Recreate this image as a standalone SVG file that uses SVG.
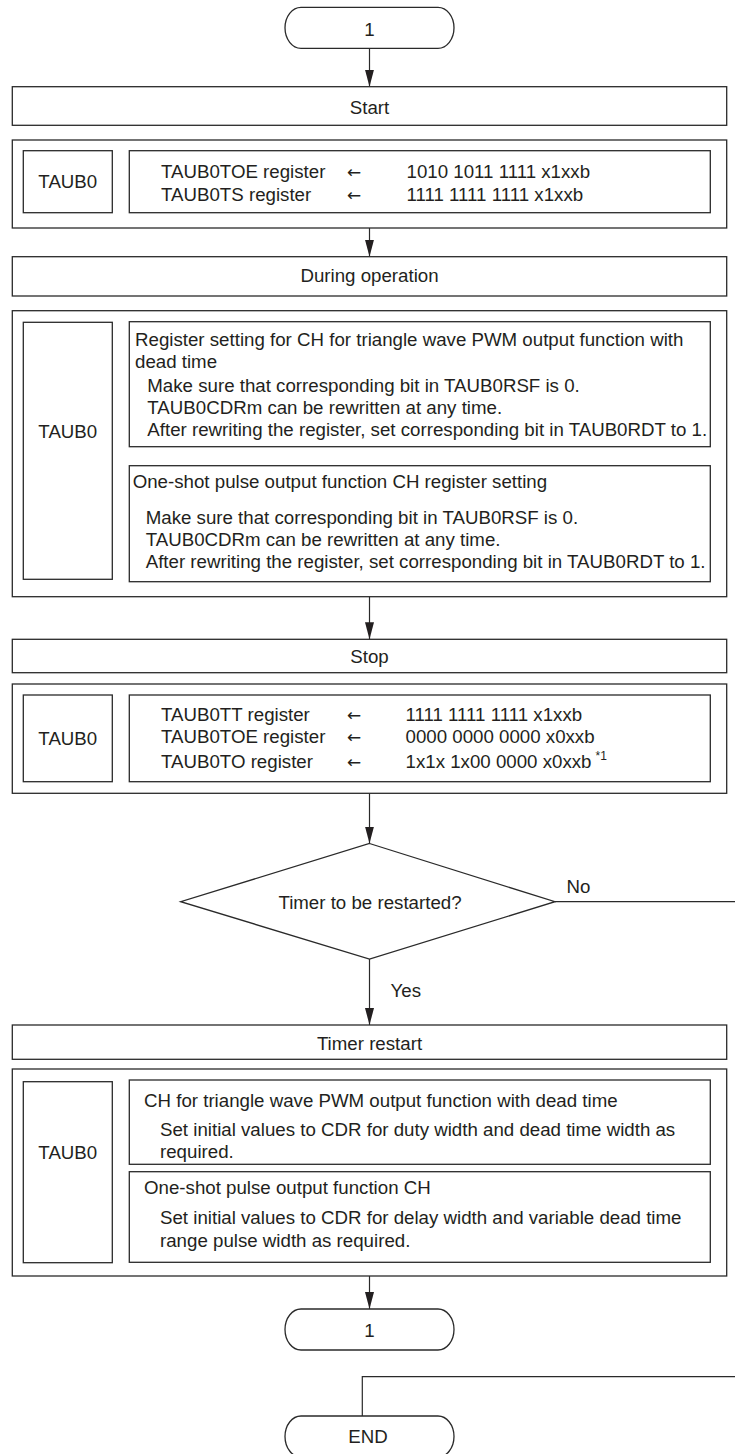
<svg xmlns="http://www.w3.org/2000/svg" width="735" height="1454" viewBox="0 0 735 1454">
<style>
  .box{fill:#fff;stroke:#2a2a2a;stroke-width:1.3}
  .ln{fill:none;stroke:#2a2a2a;stroke-width:1.2}
  text{font-family:"Liberation Sans",Arial,sans-serif;font-size:18.7px;fill:#231f20}
  .c{text-anchor:middle}
  .arr{font-family:"DejaVu Sans",sans-serif;font-size:17px}
  .sup{font-size:12px}
</style>
<defs>
  <marker id="ah" viewBox="0 0 17 9" refX="17" refY="4.5" markerWidth="17" markerHeight="9" orient="auto" markerUnits="userSpaceOnUse">
    <path d="M0,0 L17,4.5 L0,9 z" fill="#231f20"/>
  </marker>
</defs>
<rect width="735" height="1454" fill="#fff"/>

<g id="connectors">
  <line class="ln" x1="369.5" y1="48.3" x2="369.5" y2="86.7" marker-end="url(#ah)"/>
  <line class="ln" x1="369.5" y1="228" x2="369.5" y2="256.7" marker-end="url(#ah)"/>
  <line class="ln" x1="369.5" y1="596.7" x2="369.5" y2="639.3" marker-end="url(#ah)"/>
  <line class="ln" x1="369.5" y1="793.3" x2="369.5" y2="843.5" marker-end="url(#ah)"/>
  <line class="ln" x1="369.5" y1="959" x2="369.5" y2="1025" marker-end="url(#ah)"/>
  <text x="390.5" y="997.3">Yes</text>
  <line class="ln" x1="555" y1="901.7" x2="735" y2="901.7"/>
  <text x="566.5" y="893.3">No</text>
  <line class="ln" x1="369.5" y1="1276" x2="369.5" y2="1309" marker-end="url(#ah)"/>
  <polyline class="ln" points="735,1376.7 362.3,1376.7 362.3,1416"/>
</g>

<g id="term1">
  <rect class="box" x="285" y="7.3" width="169" height="41" rx="16" ry="20.5"/>
  <text class="c" x="369.5" y="36">1</text>
</g>

<g id="start">
  <rect class="box" x="12.3" y="86.7" width="714.4" height="38.6"/>
  <text class="c" x="369.5" y="113.5">Start</text>
</g>

<g id="start-settings">
  <rect class="box" x="12.3" y="140" width="714.4" height="88"/>
  <rect class="box" x="23.3" y="150.7" width="89" height="62"/>
  <text class="c" x="67.8" y="188.2">TAUB0</text>
  <rect class="box" x="129.3" y="150.7" width="581" height="62"/>
  <text x="161" y="178.3">TAUB0TOE register</text>
  <text class="arr" x="347" y="178.3">←</text>
  <text x="406.5" y="178.3">1010 1011 1111 x1xxb</text>
  <text x="161" y="200.5">TAUB0TS register</text>
  <text class="arr" x="347" y="200.5">←</text>
  <text x="406.5" y="200.5">1111 1111 1111 x1xxb</text>
</g>

<g id="during">
  <rect class="box" x="12.3" y="256.7" width="714.4" height="39.3"/>
  <text class="c" x="369.5" y="281.7">During operation</text>
</g>

<g id="during-settings">
  <rect class="box" x="12.3" y="310.7" width="714.4" height="286"/>
  <rect class="box" x="23.3" y="322.3" width="89" height="257"/>
  <text class="c" x="67.8" y="438.2">TAUB0</text>
  <rect class="box" x="129.3" y="321.7" width="581" height="125"/>
  <text x="135" y="346">Register setting for CH for triangle wave PWM output function with</text>
  <text x="135" y="367.7">dead time</text>
  <text x="147.3" y="391.7">Make sure that corresponding bit in TAUB0RSF is 0.</text>
  <text x="147.3" y="413.5">TAUB0CDRm can be rewritten at any time.</text>
  <text x="147.3" y="436">After rewriting the register, set corresponding bit in TAUB0RDT to 1.</text>
  <rect class="box" x="129.3" y="465.7" width="581" height="116"/>
  <text x="132.7" y="488.3">One-shot pulse output function CH register setting</text>
  <text x="145.7" y="524">Make sure that corresponding bit in TAUB0RSF is 0.</text>
  <text x="145.7" y="546">TAUB0CDRm can be rewritten at any time.</text>
  <text x="145.7" y="568.3">After rewriting the register, set corresponding bit in TAUB0RDT to 1.</text>
</g>

<g id="stop">
  <rect class="box" x="12.3" y="639.3" width="714.4" height="33.4"/>
  <text class="c" x="369.5" y="663">Stop</text>
</g>

<g id="stop-settings">
  <rect class="box" x="12.3" y="684" width="714.4" height="109.3"/>
  <rect class="box" x="23.3" y="695" width="89" height="86.7"/>
  <text class="c" x="67.8" y="744.7">TAUB0</text>
  <rect class="box" x="129.3" y="695" width="581" height="86.7"/>
  <text x="161" y="720.7">TAUB0TT register</text>
  <text class="arr" x="347" y="720.7">←</text>
  <text x="405.5" y="720.7">1111 1111 1111 x1xxb</text>
  <text x="161" y="742.7">TAUB0TOE register</text>
  <text class="arr" x="347" y="742.7">←</text>
  <text x="405.5" y="742.7">0000 0000 0000 x0xxb</text>
  <text x="161" y="768.3">TAUB0TO register</text>
  <text class="arr" x="347" y="768.3">←</text>
  <text x="405.5" y="768.3">1x1x 1x00 0000 x0xxb<tspan class="sup" dx="4" dy="-8">*1</tspan></text>
</g>

<g id="decision">
  <polygon class="box" points="369.5,843.5 555,901.7 369.5,959 180.7,901.7"/>
  <text class="c" x="370" y="908.5">Timer to be restarted?</text>
</g>

<g id="restart">
  <rect class="box" x="12.3" y="1025" width="714.4" height="34.3"/>
  <text class="c" x="369.5" y="1050">Timer restart</text>
</g>

<g id="restart-settings">
  <rect class="box" x="12.3" y="1069" width="714.4" height="207"/>
  <rect class="box" x="23.3" y="1081.7" width="89" height="181"/>
  <text class="c" x="67.8" y="1159.2">TAUB0</text>
  <rect class="box" x="129.3" y="1080" width="581" height="84.3"/>
  <text x="144" y="1106.7">CH for triangle wave PWM output function with dead time</text>
  <text x="160" y="1136">Set initial values to CDR for duty width and dead time width as</text>
  <text x="160" y="1158.3">required.</text>
  <rect class="box" x="129.3" y="1171.7" width="581" height="90.6"/>
  <text x="144" y="1194">One-shot pulse output function CH</text>
  <text x="160" y="1224">Set initial values to CDR for delay width and variable dead time</text>
  <text x="160" y="1246.7">range pulse width as required.</text>
</g>

<g id="term2">
  <rect class="box" x="285" y="1309" width="169" height="41" rx="16" ry="20.5"/>
  <text class="c" x="369.5" y="1336.5">1</text>
</g>

<g id="end">
  <rect class="box" x="285" y="1416" width="169" height="41" rx="16" ry="20.5"/>
  <text class="c" x="368" y="1443.3">END</text>
</g>
</svg>
